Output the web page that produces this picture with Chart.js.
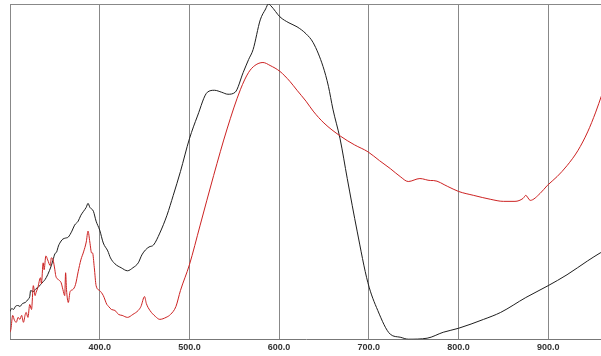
<!DOCTYPE html>
<html>
<head>
<meta charset="utf-8">
<script src="https://cdn.jsdelivr.net/npm/chart.js@4"></script>
<style>
  html, body { margin: 0; padding: 0; background: #fff; overflow: hidden; }
  #wrap { width: 612px; height: 356px; }
</style>
</head>
<body>
<div id="wrap"><canvas id="spec"></canvas></div>
<script>
// wavelength (nm) / absorbance pairs
const blackNm = [300,302,304,306,309,311,314,317,320,322,323,326,329,331,334,337,339,342,346,348,350,352,354,357,359,362,365,369,372,376,379,382,385,387,389,393,396,400,404,409,412,417,424,431,437,443,447,451,455,460,467,475,482,490,500,509,520,528,536,543,551,560,566,571,579,585,588,591,601,611,620,630,638,649,655,660,668,676,687,699,710,724,735,744,765,783,800,828,847,875,900,921,944,958,960];
const blackAbs = [0.28,0.31,0.30,0.33,0.34,0.33,0.36,0.37,0.40,0.43,0.49,0.48,0.51,0.52,0.55,0.58,0.60,0.65,0.74,0.80,0.86,0.88,0.94,0.99,1.01,1.02,1.03,1.09,1.15,1.19,1.25,1.29,1.33,1.37,1.33,1.29,1.19,1.10,0.97,0.89,0.82,0.76,0.72,0.69,0.72,0.77,0.85,0.90,0.93,0.95,1.07,1.25,1.45,1.69,2.02,2.25,2.49,2.51,2.49,2.47,2.49,2.69,2.82,2.92,3.22,3.33,3.38,3.36,3.25,3.19,3.15,3.08,2.99,2.75,2.55,2.32,2.02,1.62,1.09,0.57,0.29,0.05,0.02,0.00,0.01,0.07,0.11,0.20,0.27,0.42,0.54,0.65,0.79,0.87,0.88];

const redNm = [300,301,303,305,307,309,311,313,315,317,318,320,322,324,326,328,329,331,334,335,337,338,340,342,345,346,348,350,351,354,357,359,361,362,363,365,367,370,373,376,379,382,385,387,389,391,392,394,396,400,404,408,410,413,417,421,425,431,437,443,446,450,452,456,462,467,474,479,485,490,500,512,527,542,557,566,573,582,590,601,612,620,630,638,650,668,684,699,712,724,735,744,757,769,772,788,800,817,836,850,863,872,875,880,891,899,910,921,933,944,953,960];
const redAbs = [0.07,0.10,0.24,0.19,0.17,0.22,0.20,0.24,0.17,0.25,0.27,0.22,0.35,0.30,0.54,0.44,0.47,0.52,0.62,0.56,0.77,0.70,0.84,0.80,0.74,0.82,0.80,0.70,0.64,0.60,0.57,0.50,0.44,0.67,0.50,0.37,0.48,0.50,0.55,0.68,0.80,0.88,0.98,1.09,0.98,0.87,0.87,0.72,0.54,0.49,0.44,0.35,0.33,0.30,0.29,0.25,0.24,0.22,0.25,0.29,0.33,0.43,0.36,0.29,0.23,0.20,0.22,0.25,0.33,0.49,0.75,1.15,1.65,2.12,2.52,2.69,2.76,2.79,2.76,2.70,2.60,2.51,2.40,2.30,2.18,2.05,1.96,1.89,1.80,1.72,1.64,1.59,1.62,1.60,1.60,1.54,1.49,1.45,1.41,1.39,1.39,1.42,1.45,1.40,1.47,1.55,1.64,1.75,1.90,2.09,2.29,2.47];

const gridNm = [300,400,500,600,700,800,900];
const nmMin = 300, nmMax = 960;
const absMin = 0, absMax = 3.38;

function pairs(xs, ys) {
    return xs.map((x, i) => ({ x: x, y: ys[i] }));
}

new Chart(document.getElementById("spec"), {
    type: 'line',
    data: {
        datasets: [
            { data: pairs(redNm, redAbs), borderColor: '#cc2222', borderWidth: 1, pointRadius: 0, cubicInterpolationMode: 'monotone' },
            { data: pairs(blackNm, blackAbs), borderColor: '#1e1e1e', borderWidth: 1, pointRadius: 0, cubicInterpolationMode: 'monotone' }
        ]
    },
    options: {
        responsive: true,
        maintainAspectRatio: false,
        animation: false,
        layout: { padding: { left: 10, top: 4, right: 10, bottom: 0 } },
        plugins: { legend: { display: false }, tooltip: { enabled: false } },
        scales: {
            x: {
                type: 'linear',
                min: nmMin,
                max: nmMax,
                afterBuildTicks: s => { s.ticks = gridNm.map(v => ({ value: v })); },
                grid: { color: '#888', lineWidth: 1, drawTicks: false },
                border: { display: true, color: '#777' },
                ticks: {
                    autoSkip: false,
                    maxRotation: 0,
                    padding: 3,
                    color: '#333',
                    font: { family: 'Liberation Sans', size: 9, weight: 'bold' },
                    callback: v => v === nmMin ? '' : v.toFixed(1)
                }
            },
            y: {
                min: absMin,
                max: absMax,
                afterBuildTicks: s => { s.ticks = [{ value: absMax }]; },
                ticks: { display: false },
                grid: { color: '#888', lineWidth: 1, drawTicks: false },
                border: { display: false }
            }
        }
    }
});
</script>
</body>
</html>
